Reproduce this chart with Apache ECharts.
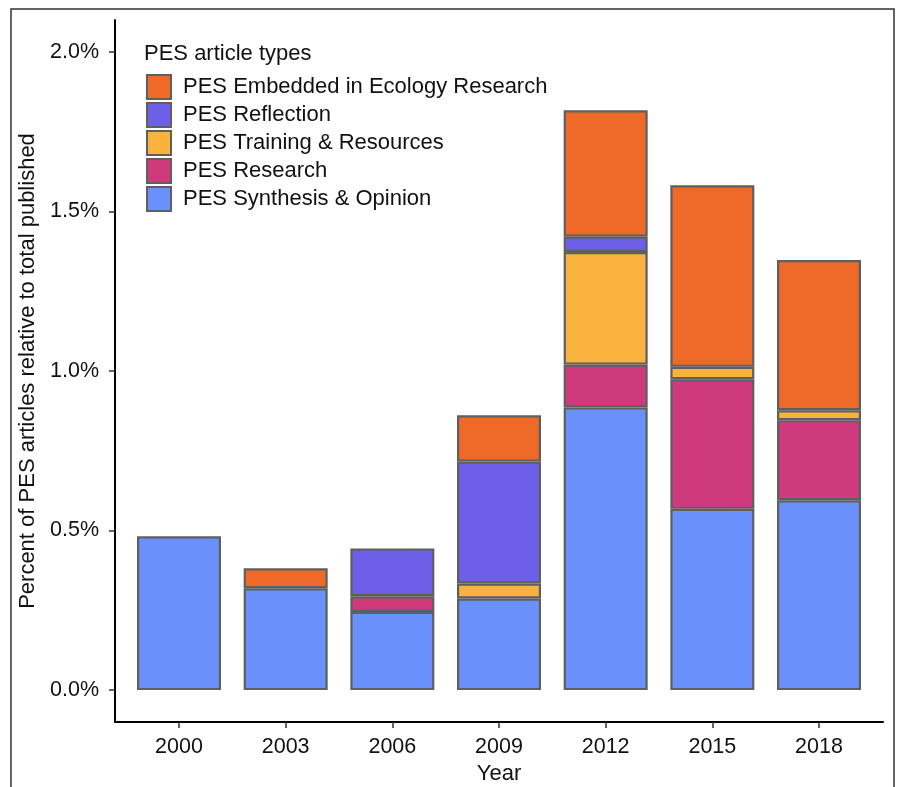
<!DOCTYPE html>
<html>
<head>
<meta charset="utf-8">
<script src="https://cdn.jsdelivr.net/npm/echarts@6/dist/echarts.min.js"></script>
<style>
html,body{margin:0;padding:0;background:#fff;}
#chart{width:899px;height:787px;}
</style>
</head>
<body>
<div id="chart"></div>
<script>
// ---- data (percent of articles) ----
const years = ['2000', '2003', '2006', '2009', '2012', '2015', '2018'];
const synthesis  = [0.482, 0.319, 0.245, 0.287, 0.886, 0.568, 0.595];
const research   = [0,     0,     0.049, 0,     0.134, 0.406, 0.251];
const training   = [0,     0,     0,     0.047, 0.353, 0.039, 0.031];
const reflection = [0,     0,     0.150, 0.382, 0.048, 0,     0];
const embedded   = [0,     0.063, 0,     0.145, 0.396, 0.569, 0.471];
const yTicks = [0, 0.5, 1.0, 1.5, 2.0];
const legendOrder = ['PES Embedded in Ecology Research', 'PES Reflection', 'PES Training & Resources', 'PES Research', 'PES Synthesis & Opinion'];

const FONT = 'Liberation Sans, Arial, Helvetica, sans-serif';
const seriesDefs = [
  { name: 'PES Synthesis & Opinion', data: synthesis, color: '#6990FB' },
  { name: 'PES Research', data: research, color: '#CE3A7B' },
  { name: 'PES Training & Resources', data: training, color: '#F8B23D' },
  { name: 'PES Reflection', data: reflection, color: '#6E5FE8' },
  { name: 'PES Embedded in Ecology Research', data: embedded, color: '#EF6A28' }
];

// plot panel spans 7.2 category units (ggplot expansion 0.6 on each side)
const PANEL_L = 115, PANEL_R = 16, W = 899;
const unit = (W - PANEL_L - PANEL_R) / 7.2;

const chart = echarts.init(document.getElementById('chart'), null, { renderer: 'canvas' });
chart.setOption({
  animation: false,
  backgroundColor: '#fff',
  textStyle: { fontFamily: FONT },
  graphic: [{
    type: 'rect', silent: true, z: -1,
    shape: { x: 11, y: 9, width: 883, height: 800 },
    style: { fill: 'none', stroke: '#333', lineWidth: 1.5 }
  }],
  title: {
    text: 'PES article types',
    left: 144, top: 42.5, padding: 0,
    textStyle: { fontFamily: FONT, fontSize: 22, fontWeight: 'normal', color: '#111' }
  },
  legend: {
    orient: 'vertical',
    left: 146, top: 74, padding: 0,
    data: legendOrder,
    itemWidth: 24, itemHeight: 24, itemGap: 2,
    icon: 'rect',
    textStyle: { fontFamily: FONT, fontSize: 22, lineHeight: 24, color: '#111', padding: [2, 0, 0, 7] }
  },
  grid: [
    { left: PANEL_L, right: PANEL_R, top: 20, bottom: 65, outerBoundsMode: 'none', containLabel: false },
    { left: PANEL_L + 0.1 * unit, right: PANEL_R + 0.1 * unit, top: 20, bottom: 65, outerBoundsMode: 'none', containLabel: false }
  ],
  xAxis: [{
    gridIndex: 0,
    type: 'value', min: -0.6, max: 6.6,
    axisLine: { show: true, onZero: false, lineStyle: { color: '#000', width: 2 } },
    axisTick: { show: false }, axisLabel: { show: false }, splitLine: { show: false }
  }, {
    gridIndex: 1,
    type: 'category', data: years,
    name: 'Year', nameLocation: 'middle', nameGap: 41,
    nameTextStyle: { fontFamily: FONT, fontSize: 22, color: '#111' },
    axisLine: { show: false, onZero: false },
    axisTick: { show: true, alignWithLabel: true, length: 6, lineStyle: { color: '#333', width: 1.5 } },
    axisLabel: { fontFamily: FONT, fontSize: 21.5, color: '#111', margin: 14 },
    splitLine: { show: false }
  }],
  yAxis: [{
    gridIndex: 0,
    type: 'value', min: -0.1, max: 2.1,
    name: 'Percent of PES articles relative to total published', nameLocation: 'middle', nameGap: 57,
    nameTextStyle: { fontFamily: FONT, fontSize: 22, color: '#111' },
    axisLine: { show: true, onZero: false, lineStyle: { color: '#000', width: 2 } },
    axisTick: { show: true, customValues: yTicks, length: 6, lineStyle: { color: '#333', width: 1.5 } },
    axisLabel: { customValues: yTicks, formatter: v => v.toFixed(1) + '%', fontFamily: FONT, fontSize: 21.5, color: '#111', margin: 16 },
    splitLine: { show: false }
  }, {
    gridIndex: 1,
    type: 'value', min: -0.1, max: 2.1, show: false
  }],
  series: seriesDefs.map(s => ({
    name: s.name,
    type: 'bar',
    xAxisIndex: 1, yAxisIndex: 1,
    stack: 'total',
    barWidth: 84,
    itemStyle: { color: s.color, borderColor: '#5f5f5f', borderWidth: 2.2 },
    emphasis: { disabled: true },
    data: s.data.map(v => (v ? v : '-'))
  }))
});
</script>
</body>
</html>
